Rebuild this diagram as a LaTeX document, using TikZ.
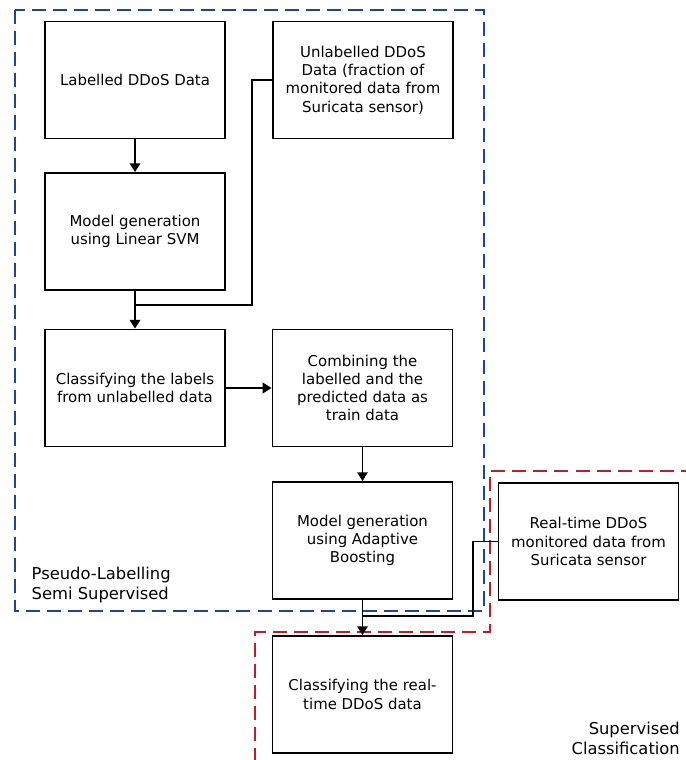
\documentclass[tikz,border=0pt]{standalone}
\usepackage{fontspec}
\setmainfont{DejaVu Sans}
\usetikzlibrary{positioning, arrows.meta}
\definecolor{semiblue}{RGB}{30,70,150}
\definecolor{superred}{RGB}{190,30,40}

\begin{document}
\begin{tikzpicture}[
    process/.style={
        draw,
        line width=1.1pt,
        minimum width=3.6cm,
        minimum height=2.34cm,
        inner sep=2pt,
        align=center,
        font=\fontsize{8.5}{10.4}\selectfont
    },
    flow/.style={line width=1pt, -{Triangle[length=5pt, width=6pt]}},
    merge/.style={line width=0.6pt},
    region/.style={line width=1.1pt, dash pattern=on 8pt off 4pt},
    caption/.style={font=\fontsize{9.3}{11.3}\selectfont}
]

\useasboundingbox (0,0) rectangle (13.72,-15.2);

% Regions
\draw[region, semiblue] (0.3,-0.2) rectangle (9.68,-12.22);
\draw[region, superred] (13.9,-9.42) -- (9.8,-9.42) -- (9.8,-12.64) -- (5.1,-12.64) -- (5.1,-15.4);

% Pseudo-labelling steps
\node[process] (labelled) at (2.7,-1.6) {Labelled DDoS Data};
\node[process] (svm) at (2.7,-4.63) {Model generation\\using Linear SVM};
\node[process] (unlabelled) at (7.26,-1.6) {Unlabelled DDoS\\Data (fraction of\\monitored data from\\Suricata sensor)};
\node[process] (classify) at (2.7,-7.76) {Classifying the labels\\from unlabelled data};
\node[process] (combine) at (7.25,-7.76) {Combining the\\labelled and the\\predicted data as\\train data};
\node[process] (adaboost) at (7.25,-10.81) {Model generation\\using Adaptive\\Boosting};

% Supervised steps
\node[process] (realtime) at (11.77,-10.83) {Real-time DDoS\\monitored data from\\Suricata sensor};
\node[process] (result) at (7.25,-13.89) {Classifying the real-\\time DDoS data};

% Region captions
\node[caption, anchor=west, align=left] (semicap) at (0.51,-11.7) {Pseudo-Labelling\\Semi Supervised};
\node[caption, anchor=east, align=right] (supcap) at (13.72,-14.77) {Supervised\\Classification};

% Connectors
\draw[flow] (labelled) -- (svm);
\draw[flow] (svm) -- (classify);
\coordinate (svmbend) at (5.04,-6.1);
\coordinate (svmjoin) at (2.7,-6.1);
\draw[merge] (unlabelled.west) -| (svmbend) -- (svmjoin);

\draw[flow] (classify) -- (combine);
\draw[flow] (combine) -- (adaboost);
\draw[flow] (adaboost) -- (result);
\coordinate (rtbend) at (9.46,-12.32);
\coordinate (adajoin) at (7.25,-12.32);
\draw[merge] (realtime.west) -| (rtbend) -- (adajoin);

\end{tikzpicture}
\end{document}
